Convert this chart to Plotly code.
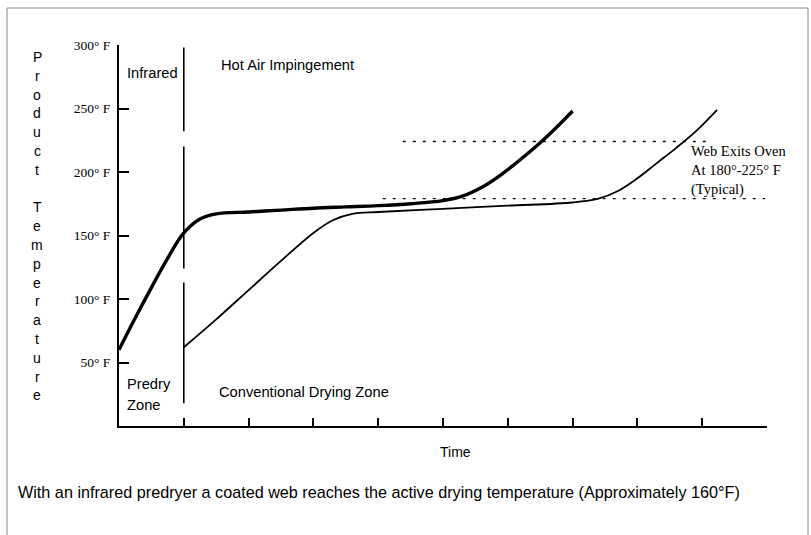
import plotly.graph_objects as go

# ---- data ----
ir_x = [0, 0.25, 0.5, 0.75, 1.0, 1.25, 1.5, 2.0, 2.5, 3.0, 3.5, 4.0, 4.5, 5.0, 5.3, 5.6, 5.9, 6.2, 6.5, 6.75, 7.0]
ir_y = [60, 85, 109, 132, 152, 163, 167, 168.5, 170, 171.5, 172.5, 173.5, 175, 177.5, 181, 188, 198, 210, 223, 235, 248]

conv_x = [1.0, 1.5, 2.0, 2.5, 3.0, 3.3, 3.6, 4.0, 5.0, 6.0, 7.0, 7.4, 7.7, 8.0, 8.3, 8.6, 8.9, 9.23]
conv_y = [62, 84, 107, 130, 152, 162, 167, 168.5, 171, 173.5, 176, 179, 185, 195, 207, 219, 232, 249]

exit_hi_x = [4.38, 9.15]
exit_hi_y = [224, 224]
exit_lo_x = [4.07, 9.97]
exit_lo_y = [179, 179]

zone_x = [1, 1, None, 1, 1, None, 1, 1]
zone_y = [298, 232, None, 220, 124, None, 113, 18]

y_ticks = [50, 100, 150, 200, 250, 300]
y_tick_labels = ["50° F", "100° F", "150° F", "200° F", "250° F", "300° F"]
x_ticks = [1, 2, 3, 4, 5, 6, 7, 8, 9, 10]

y_title = "Product Temperature"
caption = "With an infrared predryer a coated web reaches the active drying temperature (Approximately 160°F)"

SANS = "Liberation Sans Narrow, Arial Narrow, Liberation Sans, Arial, sans-serif"
SERIF = "Liberation Serif, Times New Roman, serif"

W, H = 811, 535
L, R, T, B = 119, 44, 45, 109
PW, PH = W - L - R, H - T - B


def px(x):
    return (x - L) / PW


def py(y):
    return (H - B - y) / PH


fig = go.Figure()
fig.add_trace(go.Scatter(x=zone_x, y=zone_y, mode="lines",
                         line=dict(color="black", width=1.6), hoverinfo="skip"))
fig.add_trace(go.Scatter(x=exit_hi_x, y=exit_hi_y, mode="lines",
                         line=dict(color="#111", width=1.3, dash="3px,7px")))
fig.add_trace(go.Scatter(x=exit_lo_x, y=exit_lo_y, mode="lines",
                         line=dict(color="#111", width=1.3, dash="3px,7px")))
fig.add_trace(go.Scatter(x=conv_x, y=conv_y, mode="lines",
                         line=dict(color="black", width=1.8, shape="spline", smoothing=1.0)))
fig.add_trace(go.Scatter(x=ir_x, y=ir_y, mode="lines",
                         line=dict(color="black", width=3.4, shape="spline", smoothing=1.0)))

ann = []
# vertical y-axis title, one letter per line
yy = 57
for ch in y_title:
    if ch != " ":
        ann.append(dict(x=px(37), y=py(yy), xref="paper", yref="paper", text=ch,
                        showarrow=False, borderpad=0, xanchor="center", yanchor="middle",
                        font=dict(family=SANS, size=14, color="black")))
    yy += 18.8


def txt(t, x, y, family=SANS, size=14.7, xanchor="left"):
    ann.append(dict(x=px(x), y=py(y), xref="paper", yref="paper", text=t, showarrow=False,
                    xanchor=xanchor, yanchor="middle", align="left",
                    font=dict(family=family, size=size, color="black")))


txt("Infrared", 125, 73)
txt("Hot Air Impingement", 219, 65)
txt("Predry", 125, 384)
txt("Zone", 125, 405)
txt("Conventional Drying Zone", 217, 392)
txt("Time", 455, 452, size=14, xanchor="center")
txt(caption, 16, 492, size=16.2)
txt("Web Exits Oven<br>At 180°-225° F<br>(Typical)", 689, 170, family=SERIF, size=14.5)

fig.update_layout(
    width=W, height=H,
    margin=dict(l=L, r=R, t=T, b=B),
    paper_bgcolor="white", plot_bgcolor="white",
    showlegend=False,
    annotations=ann,
    xaxis=dict(range=[0, 10], showgrid=False, zeroline=False, showline=True,
               linecolor="black", linewidth=2, ticks="inside", ticklen=8, tickwidth=1.5,
               tickcolor="black", tickvals=x_ticks, showticklabels=False),
    yaxis=dict(range=[0, 300], showgrid=False, zeroline=False, showline=True,
               linecolor="black", linewidth=2, ticks="inside", ticklen=10, tickwidth=1.5,
               tickcolor="black", tickvals=y_ticks, ticktext=y_tick_labels,
               tickfont=dict(family=SERIF, size=13.5, color="black"), ticklabelstandoff=4),
    shapes=[
        dict(type="rect", xref="paper", yref="paper", x0=px(7), x1=px(808), y0=py(545), y1=py(8),
             line=dict(color="#888", width=1), layer="below"),
    ],
)

fig.write_html("out.html", config={"displayModeBar": False},
               post_script="document.body.style.margin='0';document.body.style.overflow='hidden';")
